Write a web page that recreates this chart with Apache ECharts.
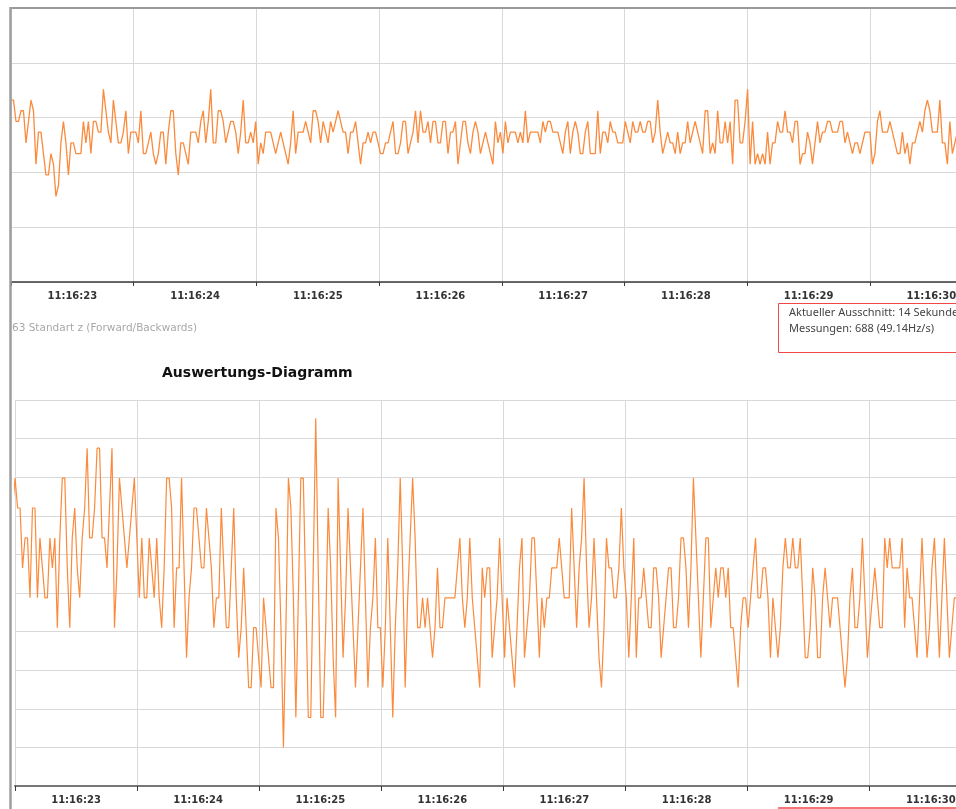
<!DOCTYPE html>
<html>
<head>
<meta charset="utf-8">
<title>Auswertungs-Diagramm</title>
<script src="https://cdn.jsdelivr.net/npm/echarts@6/dist/echarts.min.js"></script>
<style>
html, body { margin: 0; padding: 0; background: #fff; overflow: hidden; }
#chart { width: 1000px; height: 809px; }
</style>
</head>
<body>
<div id="chart"></div>
<script>
// Sekunden-Beschriftung (zwischen den Ticks)
var secondLabels = ['11:16:23', '11:16:24', '11:16:25', '11:16:26', '11:16:27', '11:16:28', '11:16:29', '11:16:30'];

// Messrate laut Info-Box
var sampleRate = 49.14;
var topStart = 0;        // Sekunden ab 11:16:23
var bottomStart = -0.04;

// oberes Diagramm: Rohwerte (Stufen)
var topSamples = [
  17,17,15,15,16,16,13,15,17,16, 11,14,14,12,10,10,12,11,8,9,
  13,15,13,10,13,13,12,12,12,15, 13,15,12,15,15,14,14,18,16,14,
  13,17,15,13,13,14,16,12,14,14, 14,13,16,12,12,13,14,12,11,12,
  14,14,11,14,16,16,12,10,13,13, 12,11,14,14,14,13,15,16,13,15,
  18,13,13,16,16,15,13,14,15,15, 14,12,14,17,13,13,14,13,15,11,
  13,12,14,14,14,13,12,13,14,13, 12,11,13,16,12,14,14,14,15,14,
  13,16,16,15,13,15,14,13,15,14, 15,16,15,14,14,12,14,14,15,13,
  11,13,13,14,13,14,14,13,12,12, 13,13,14,15,12,12,13,15,15,12,
  13,14,16,13,16,14,14,15,13,15, 15,13,13,15,15,12,14,14,15,11,
  13,15,15,13,12,14,15,14,12,13, 14,13,12,11,15,13,14,12,15,13,
  14,14,14,13,14,13,16,13,14,14, 14,14,13,15,14,15,15,14,14,14,
  13,12,14,15,12,14,15,14,12,12, 14,15,12,12,12,16,12,14,14,13,
  15,14,14,13,13,13,15,14,13,15, 14,14,15,14,14,15,15,13,14,17,
  14,12,13,14,13,13,12,14,12,13, 13,15,13,14,15,14,13,12,16,16,
  12,13,12,16,13,13,15,13,15,11, 17,17,13,13,15,18,11,15,11,12,
  11,12,11,14,11,13,13,15,14,14, 16,14,14,13,15,15,11,12,12,14,
  13,11,13,15,13,14,14,15,15,14, 14,14,15,15,13,14,13,12,13,13,
  12,13,14,14,14,11,12,15,16,14, 14,14,15,14,13,12,12,14,12,13,
  11,13,13,14,15,14,16,17,16,14, 14,14,17,13,13,11,15,12,13,14,
  14,13,15,14
];

// unteres Diagramm: Auswertung (Stufen)
var bottomSamples = [
  7,8,9,8,8,6,7,7,5,8, 8,5,7,6,5,5,7,6,7,4,
  7,9,9,6,4,7,8,6,5,7, 8,10,7,7,8,10,10,7,7,6,
  8,10,4,6,9,8,7,6,7,8, 9,7,5,7,5,5,7,6,5,7,
  5,4,6,9,9,8,4,6,6,9, 6,3,5,6,8,8,7,6,6,8,
  7,6,4,5,5,8,6,4,4,6, 8,5,3,4,6,4,2,2,4,4,
  3,2,5,4,3,2,2,8,7,4, 0,4,9,8,5,1,5,9,9,5,
  1,1,6,11,6,1,1,4,8,6, 3,1,9,6,3,5,8,6,4,2,
  4,6,8,5,2,4,5,7,4,4, 2,4,7,4,1,4,6,9,6,2,
  5,7,9,7,4,4,5,4,5,4, 3,4,6,4,4,5,5,5,5,5,
  6,7,5,4,5,7,5,4,3,2, 6,5,6,6,3,4,5,7,5,3,
  5,4,3,2,4,6,7,3,4,5, 7,7,5,3,5,4,5,5,6,6,
  6,7,6,5,5,5,8,6,4,6, 7,9,6,4,5,7,5,3,2,4,
  7,6,6,5,5,6,8,6,5,3, 5,7,3,5,5,6,5,4,4,6,
  6,5,3,4,5,6,6,4,4,5, 7,7,6,4,6,9,7,5,3,5,
  7,7,4,5,6,5,6,6,5,6, 4,4,3,2,4,5,5,4,5,6,
  7,5,5,6,6,5,3,5,4,3, 4,6,7,6,6,7,6,6,7,5,
  3,3,4,6,5,3,3,5,6,5, 4,5,5,5,4,3,2,3,5,6,
  4,4,5,7,5,3,4,5,6,5, 4,4,7,6,7,6,6,6,6,7,
  4,6,5,5,4,3,5,7,5,3, 4,6,7,5,3,5,7,5,3,4,
  5,5,5,6,5,4
];

function toPoints(samples, start) {
    return samples.map(function (v, i) {
        return [start + i / sampleRate, v];
    });
}

var gridColor = '#d8d8d8';
var lineColor = '#fb8a3c';
var labelStyle = {
    color: '#333',
    fontFamily: 'DejaVu Sans',
    fontSize: 10,
    fontWeight: 'bold',
    margin: 9,
    interval: 0
};

var chart = echarts.init(document.getElementById('chart'));

var option = {
    animation: false,
    grid: [
        { left: 11, top: 8, width: 981.6, height: 274 },
        { left: 15, top: 400, width: 976.8, height: 386 }
    ],
    xAxis: [
        // oben: Zeitachse für Daten, Gitter, Ticks
        {
            type: 'value', gridIndex: 0, min: 0, max: 8, interval: 1, position: 'bottom',
            axisLine: { show: true, onZero: false, lineStyle: { color: '#3a3a3a', width: 1.5 } },
            axisTick: { show: true, length: 4, lineStyle: { color: '#3a3a3a' } },
            axisLabel: { show: false },
            splitLine: { show: true, lineStyle: { color: gridColor } }
        },
        // oben: Beschriftung
        {
            type: 'category', gridIndex: 0, data: secondLabels, position: 'bottom', boundaryGap: true,
            axisLine: { show: false, onZero: false }, axisTick: { show: false },
            splitLine: { show: false }, axisLabel: labelStyle
        },
        // oben: Rahmen
        {
            type: 'value', gridIndex: 0, min: 0, max: 8, position: 'top',
            axisLine: { show: true, onZero: false, lineStyle: { color: '#9a9a9a', width: 2 } },
            axisTick: { show: false }, axisLabel: { show: false }, splitLine: { show: false }
        },
        // unten: Zeitachse
        {
            type: 'value', gridIndex: 1, min: 0, max: 8, interval: 1, position: 'bottom',
            axisLine: { show: true, onZero: false, lineStyle: { color: '#777', width: 2 } },
            axisTick: { show: true, length: 5, lineStyle: { color: '#3a3a3a' } },
            axisLabel: { show: false },
            splitLine: { show: true, lineStyle: { color: gridColor } }
        },
        // unten: Beschriftung
        {
            type: 'category', gridIndex: 1, data: secondLabels, position: 'bottom', boundaryGap: true,
            axisLine: { show: false, onZero: false }, axisTick: { show: false },
            splitLine: { show: false }, axisLabel: labelStyle
        }
    ],
    yAxis: [
        {
            type: 'value', gridIndex: 0, min: 0, max: 25.6, interval: 5.12,
            axisLine: { show: false }, axisTick: { show: false }, axisLabel: { show: false },
            splitLine: { show: true, lineStyle: { color: gridColor } }
        },
        {
            type: 'value', gridIndex: 1, min: -1.29, max: 11.61, interval: 1.29,
            axisLine: { show: false }, axisTick: { show: false }, axisLabel: { show: false },
            splitLine: { show: true, lineStyle: { color: gridColor } }
        }
    ],
    series: [
        {
            type: 'line', xAxisIndex: 0, yAxisIndex: 0,
            data: toPoints(topSamples, topStart),
            symbol: 'none', lineStyle: { color: lineColor, width: 1.3 }
        },
        {
            type: 'line', xAxisIndex: 3, yAxisIndex: 1, clip: false,
            data: toPoints(bottomSamples, bottomStart),
            symbol: 'none', lineStyle: { color: lineColor, width: 1.2 }
        }
    ],
    graphic: [
        // linker Rahmen über die ganze Höhe
        {
            type: 'line', z: 100,
            shape: { x1: 10.5, y1: 7, x2: 10.5, y2: 809 },
            style: { stroke: '#9e9e9e', lineWidth: 2.5 }
        },
        {
            type: 'text', x: 12, y: 328,
            style: {
                text: '63 Standart z (Forward/Backwards)', fill: '#a8a8a8',
                font: '10.5px "DejaVu Sans"', verticalAlign: 'middle'
            }
        },
        {
            type: 'text', x: 162, y: 373,
            style: {
                text: 'Auswertungs-Diagramm', fill: '#111',
                font: 'bold 14px "DejaVu Sans"', verticalAlign: 'middle'
            }
        },
        {
            type: 'rect',
            shape: { x: 778.5, y: 303.5, width: 240, height: 49 },
            style: { fill: '#fff', stroke: '#f04848', lineWidth: 1 }
        },
        {
            type: 'text', x: 789, y: 313,
            style: {
                text: 'Aktueller Ausschnitt: 14 Sekunden', fill: '#444',
                font: '11px "Noto Sans"', verticalAlign: 'middle'
            }
        },
        {
            type: 'text', x: 789, y: 329,
            style: {
                text: 'Messungen: 688 (49.14Hz/s)', fill: '#444',
                font: '11px "Noto Sans"', verticalAlign: 'middle'
            }
        },
        {
            type: 'line',
            shape: { x1: 778, y1: 808, x2: 1000, y2: 808 },
            style: { stroke: '#f04848', lineWidth: 1.5 }
        }
    ]
};

chart.setOption(option);
</script>
</body>
</html>
